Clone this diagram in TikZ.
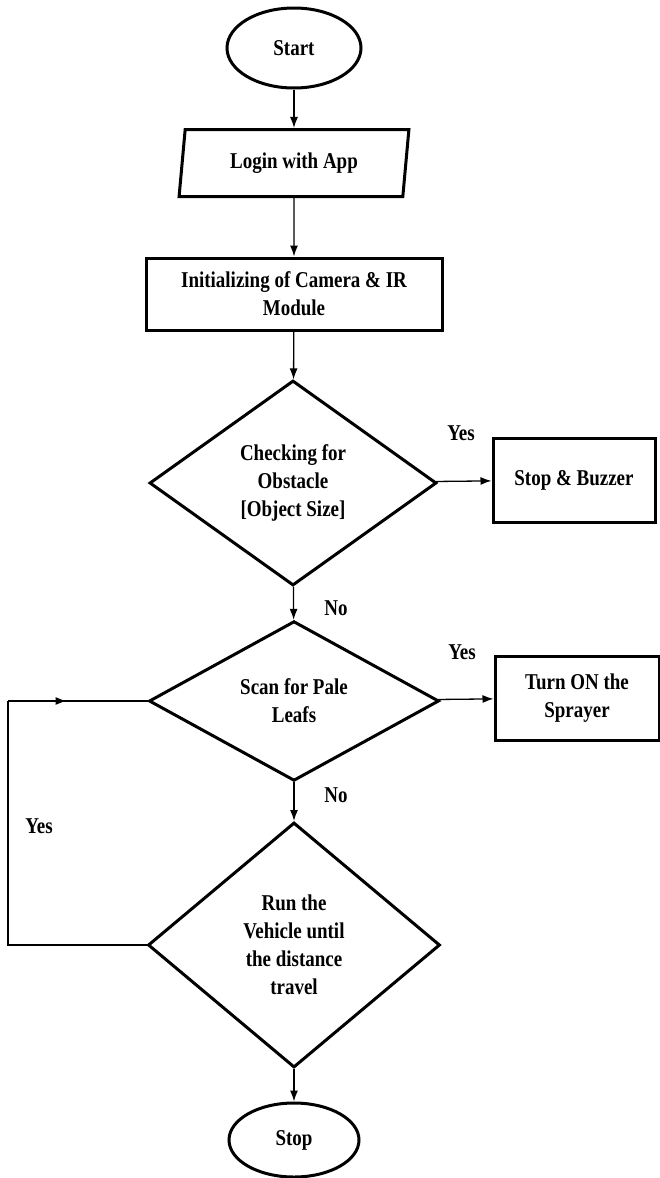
\documentclass[tikz,border=0pt]{standalone}
\usepackage{fontspec}
\setmainfont[FakeStretch=0.84]{Liberation Serif}
\usetikzlibrary{shapes.geometric,arrows.meta,decorations.markings}

\tikzset{
    base/.style={draw, line width=3pt, align=center, inner sep=2pt,
        font=\fontsize{22.6}{28}\selectfont\bfseries},
    terminal/.style={base, ellipse},
    inout/.style={base, trapezium, trapezium left angle=81.5, trapezium right angle=98.5,
        trapezium stretches=true},
    process/.style={base, rectangle},
    decision/.style={base, diamond},
    flow/.style={line width=1.3pt, -{Latex[length=11pt,width=8pt]}},
    lbl/.style={font=\fontsize{22.6}{28}\selectfont\bfseries}
}

\begin{document}
\begin{tikzpicture}[x=1pt, y=-1pt]
    \useasboundingbox (0,0) rectangle (660,1178);

    % Main column
    \node[terminal, minimum width=134pt, minimum height=80pt] (start) at (294,48) {Start};
    \node[inout, minimum width=230pt, minimum height=67pt] (login) at (294,163) {Login with App};
    \node[process, minimum width=296pt, minimum height=72pt] (init) at (294,294)
        {Initializing of Camera \& IR\\Module};
    \node[decision, minimum width=287pt, minimum height=205pt] (check) at (293,483)
        {Checking for\\Obstacle\\{}[Object Size]};
    \node[decision, minimum width=290pt, minimum height=140pt] (scan) at (294,701)
        {Scan for Pale\\Leafs};
    \node[decision, minimum width=292pt, minimum height=245pt] (run) at (294,945)
        {Run the\\Vehicle until\\the distance\\travel};
    \node[terminal, minimum width=130pt, minimum height=74pt] (stop) at (294,1140) {Stop};

    % Side boxes
    \node[process, minimum width=162pt, minimum height=84pt] (buzzer) at (574,480) {Stop \& Buzzer};
    \node[process, minimum width=164pt, minimum height=84pt] (spray) at (577,698)
        {Turn ON the\\Sprayer};

    % Connectors
    \draw[flow] (start) -- (login);
    \draw[flow] (login) -- (init);
    \draw[flow] (init) -- (check);
    \draw[flow] (check) -- (buzzer);
    \draw[flow] (check) -- (scan);
    \draw[flow] (scan) -- (spray);
    \draw[flow] (scan) -- (run);
    \draw[flow] (run) -- (stop);

    % Loop back
    \coordinate (loop) at (8,701);
    \draw[line width=1.3pt] (run.west) -| (loop);
    \draw[line width=1.3pt, postaction=decorate,
        decoration={markings, mark=at position 0.42 with {\arrow{Latex[length=11pt,width=8pt]}}}]
        (loop) -- (scan.west);

    % Labels
    \node[lbl] (yes1) at (461,433) {Yes};
    \node[lbl] (no1) at (336,608) {No};
    \node[lbl] (yes2) at (462,652) {Yes};
    \node[lbl] (no2) at (336,795) {No};
    \node[lbl] (yes3) at (39,826) {Yes};
\end{tikzpicture}
\end{document}
